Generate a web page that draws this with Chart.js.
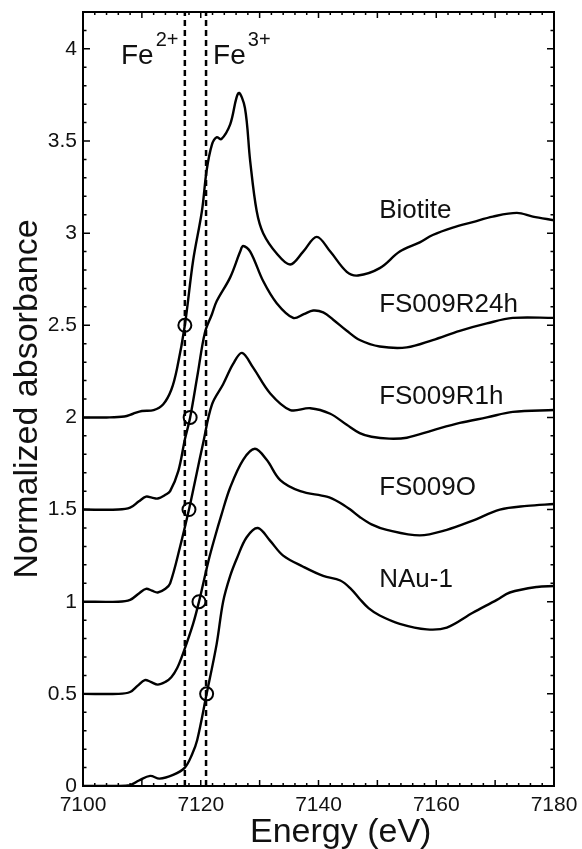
<!DOCTYPE html>
<html>
<head>
<meta charset="utf-8">
<script src="https://cdn.jsdelivr.net/npm/chart.js@4.4.1/dist/chart.umd.min.js"></script>
<style>
  html, body { margin: 0; padding: 0; background: #fff; }
  #wrap { width: 582px; height: 849px; position: relative; }
</style>
</head>
<body>
<div id="wrap"><canvas id="xanes"></canvas></div>
<script>
// Fe K-edge XANES, curves stacked by 0.5
const biotiteE = [7100, 7104, 7107, 7108.5, 7110, 7112, 7113.6, 7115, 7116, 7117.3, 7118.7, 7120.2, 7121, 7121.9, 7122.7, 7123.5, 7125, 7126.4, 7127.5, 7128.4, 7129.5, 7130.6, 7132.9, 7135.2, 7137.4, 7139.7, 7142, 7144.8, 7146.7, 7150.4, 7153.8, 7157.2, 7159.4, 7162.8, 7166.2, 7169.6, 7173.7, 7176.4, 7180];
const biotiteA = [2.0, 2.0, 2.005, 2.02, 2.035, 2.04, 2.07, 2.15, 2.27, 2.5, 2.85, 3.12, 3.34, 3.48, 3.52, 3.51, 3.59, 3.76, 3.68, 3.39, 3.12, 3.0, 2.89, 2.83, 2.9, 2.98, 2.9, 2.79, 2.77, 2.81, 2.9, 2.95, 2.99, 3.03, 3.06, 3.09, 3.11, 3.09, 3.07];

const r24hE = [7100, 7106, 7108, 7109.5, 7110.7, 7111.7, 7112.7, 7114, 7114.8, 7116.2, 7117.3, 7118.2, 7119.5, 7120.7, 7121.9, 7122.7, 7125, 7126.7, 7127.2, 7128.4, 7130.6, 7132.9, 7135.7, 7137.5, 7139.1, 7140.8, 7142.5, 7144.8, 7147, 7150.4, 7155, 7159.4, 7164, 7168.6, 7173, 7180];
const r24hA = [1.5, 1.5, 1.51, 1.545, 1.57, 1.565, 1.56, 1.58, 1.6, 1.71, 1.88, 2.0, 2.24, 2.46, 2.56, 2.63, 2.76, 2.9, 2.93, 2.9, 2.74, 2.62, 2.54, 2.56, 2.58, 2.57, 2.53, 2.47, 2.42, 2.385, 2.38, 2.42, 2.47, 2.51, 2.54, 2.54];

const r1hE = [7100, 7106, 7108, 7109.5, 7110.7, 7111.7, 7112.7, 7114, 7114.8, 7116.5, 7118, 7119.2, 7120.4, 7121.9, 7123.8, 7125.5, 7127, 7128.9, 7131.8, 7135.2, 7138.6, 7142, 7144.8, 7147, 7149, 7152, 7155, 7159.4, 7164, 7168.6, 7173, 7180];
const r1hA = [1.0, 1.0, 1.01, 1.045, 1.07, 1.06, 1.05, 1.07, 1.1, 1.3, 1.5, 1.68, 1.86, 2.07, 2.18, 2.29, 2.35, 2.27, 2.13, 2.04, 2.05, 2.02, 1.96, 1.915, 1.895, 1.885, 1.89, 1.93, 1.97, 2.0, 2.03, 2.04];

const fs009oE = [7100, 7106, 7108, 7109.3, 7110.5, 7111.5, 7112.7, 7114, 7115, 7116, 7117, 7118.7, 7119.7, 7121.3, 7122.4, 7123.5, 7125, 7127.2, 7129.2, 7131.2, 7133.5, 7136.9, 7141.4, 7143.5, 7145.4, 7147, 7149, 7151.6, 7157.2, 7161.8, 7166.2, 7170.8, 7175.4, 7180];
const fs009oA = [0.5, 0.5, 0.51, 0.545, 0.575, 0.565, 0.55, 0.565, 0.59, 0.64, 0.72, 0.88, 1.0, 1.22, 1.35, 1.47, 1.62, 1.77, 1.83, 1.77, 1.66, 1.6, 1.57, 1.54, 1.5, 1.46, 1.42, 1.39, 1.36, 1.39, 1.44, 1.5, 1.52, 1.53];

const nau1E = [7100, 7106, 7108, 7109.5, 7111.4, 7113, 7115.3, 7117.3, 7118.5, 7119.4, 7121, 7122.7, 7123.8, 7125, 7126.2, 7127.8, 7129.7, 7131.8, 7134, 7137.4, 7140.8, 7143.7, 7145.5, 7147, 7148.5, 7150.4, 7153.8, 7158.4, 7161.8, 7166.2, 7170.3, 7172.5, 7177.1, 7180];
const nau1A = [0, 0, 0.005, 0.03, 0.055, 0.04, 0.06, 0.1, 0.17, 0.25, 0.5, 0.77, 1.0, 1.14, 1.24, 1.35, 1.4, 1.33, 1.25, 1.19, 1.14, 1.115, 1.07, 1.015, 0.965, 0.925, 0.88, 0.85, 0.86, 0.94, 1.01, 1.05, 1.08, 1.085];

// edge position (half height) of each spectrum
const edgeE = [7117.3, 7118.2, 7118.0, 7119.7, 7121.0];
const edgeA = [2.5, 2.0, 1.5, 1.0, 0.5];

// reference edge energies Fe2+ / Fe3+
const refLines = [7117.3, 7120.9];

const sampleNames = ['Biotite', 'FS009R24h', 'FS009R1h', 'FS009O', 'NAu-1'];
const nameY = [3.12, 2.61, 2.11, 1.62, 1.12];
const nameX = 7150.3;

const toXY = (xs, ys) => xs.map((v, i) => ({ x: v, y: ys[i] }));

const font = 'Liberation Sans, Arial, Helvetica, sans-serif';
const ink = '#111';

function curve(xs, ys) {
    return {
        data: toXY(xs, ys),
        showLine: true,
        borderColor: '#000',
        borderWidth: 2.4,
        pointRadius: 0,
        tension: 0.35,
        fill: false
    };
}

const datasets = [
    ...refLines.map(e => ({
        data: [{ x: e, y: 0 }, { x: e, y: 4.2 }],
        showLine: true,
        borderColor: '#000',
        borderWidth: 2.5,
        borderDash: [6, 4],
        pointRadius: 0,
        fill: false
    })),
    curve(biotiteE, biotiteA),
    curve(r24hE, r24hA),
    curve(r1hE, r1hA),
    curve(fs009oE, fs009oA),
    curve(nau1E, nau1A),
    {
        data: toXY(edgeE, edgeA),
        showLine: false,
        pointStyle: 'circle',
        pointRadius: 6.5,
        pointBorderWidth: 2,
        pointBorderColor: '#000',
        pointBackgroundColor: 'rgba(0,0,0,0)'
    }
];

// frame, inward ticks on all sides, annotations and axis titles
const decorations = {
    id: 'decorations',
    afterDatasetsDraw(chart) {
        const { ctx, chartArea: a, scales: { x, y } } = chart;
        ctx.save();
        ctx.strokeStyle = '#000';
        ctx.lineWidth = 2;
        ctx.strokeRect(a.left, a.top, a.right - a.left, a.bottom - a.top);

        ctx.lineWidth = 1.5;
        ctx.beginPath();
        for (let e = 7100; e <= 7180; e += 2) {
            const px = x.getPixelForValue(e);
            const len = e % 10 === 0 ? 6 : 3;
            ctx.moveTo(px, a.bottom); ctx.lineTo(px, a.bottom - len);
            ctx.moveTo(px, a.top); ctx.lineTo(px, a.top + len);
        }
        for (let i = 0; i <= 42; i++) {
            const py = y.getPixelForValue(i / 10);
            const len = i % 5 === 0 ? 7 : 3.5;
            ctx.moveTo(a.left, py); ctx.lineTo(a.left + len, py);
            ctx.moveTo(a.right, py); ctx.lineTo(a.right - len, py);
        }
        ctx.stroke();

        ctx.fillStyle = ink;
        ctx.textAlign = 'left';
        ctx.textBaseline = 'middle';
        ctx.font = '26px ' + font;
        sampleNames.forEach((n, i) => {
            ctx.fillText(n, x.getPixelForValue(nameX), y.getPixelForValue(nameY[i]));
        });

        // Fe2+ and Fe3+
        ctx.textBaseline = 'alphabetic';
        [['2+', 7106.45], ['3+', 7122.1]].forEach(([sup, e]) => {
            const px = x.getPixelForValue(e);
            const base = y.getPixelForValue(3.919);
            ctx.font = '28px ' + font;
            ctx.fillText('Fe', px, base);
            const w = ctx.measureText('Fe').width;
            ctx.font = '20px ' + font;
            ctx.fillText(sup, px + w + 2, base - 18);
        });

        // axis titles
        ctx.font = '34px ' + font;
        ctx.fillText('Energy (eV)', a.left + 167, a.bottom + 56);
        ctx.save();
        ctx.translate(37, (a.top + a.bottom) / 2);
        ctx.rotate(-Math.PI / 2);
        ctx.textAlign = 'center';
        ctx.fillText('Normalized absorbance', 0, 0);
        ctx.restore();
        ctx.restore();
    }
};

new Chart(document.getElementById('xanes'), {
    type: 'scatter',
    data: { datasets: datasets },
    plugins: [decorations],
    options: {
        responsive: true,
        maintainAspectRatio: false,
        animation: false,
        devicePixelRatio: 1,
        layout: { padding: { left: 0, right: 28, top: 12, bottom: 0 } },
        plugins: {
            legend: { display: false },
            tooltip: { enabled: false }
        },
        scales: {
            x: {
                type: 'linear',
                min: 7100,
                max: 7180,
                grid: { display: false, drawTicks: false },
                border: { display: false },
                ticks: {
                    stepSize: 20,
                    padding: 7,
                    color: ink,
                    font: { family: font, size: 21 },
                    maxRotation: 0,
                    callback: v => String(v)
                },
                afterFit: s => {
                    s.height = 63;
                    s.paddingLeft = 0;
                    s.paddingRight = 0;
                }
            },
            y: {
                min: 0,
                max: 4.2,
                grid: { display: false, drawTicks: false },
                border: { display: false },
                ticks: {
                    stepSize: 0.5,
                    padding: 6,
                    color: ink,
                    font: { family: font, size: 21 },
                    callback: v => (Math.abs(v * 2 - Math.round(v * 2)) < 1e-6 ? String(v) : null)
                },
                afterFit: s => {
                    s.width = 83;
                    s.paddingTop = 0;
                    s.paddingBottom = 0;
                }
            }
        }
    }
});
</script>
</body>
</html>
